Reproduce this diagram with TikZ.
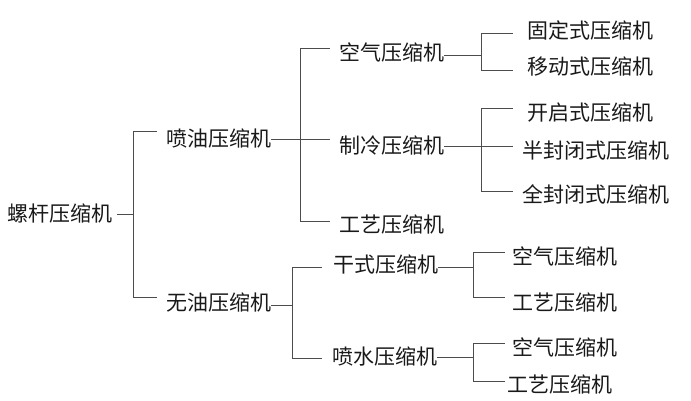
\documentclass[tikz,border=0pt]{standalone}
\usepackage{fontspec}
\setmainfont{Noto Sans CJK SC}
\begin{document}
\begin{tikzpicture}[x=1pt, y=-1pt,
    lbl/.style={anchor=west, inner sep=0pt, font=\fontsize{21}{25}\selectfont, text=black!90},
    link/.style={draw=black!70, line width=0.8pt}]
      \useasboundingbox (0,0) rectangle (691,400);
      %
      \node[lbl] (root) at (7,213) {螺杆压缩机};      % root
      %
      \node[lbl] (pen) at (166,138) {喷油压缩机};     % second level
      \node[lbl] (wu)  at (166,302) {无油压缩机};
      %
      \node[lbl] (kq1) at (339,52)  {空气压缩机};     % under pen
      \node[lbl] (zl)  at (339,145) {制冷压缩机};
      \node[lbl] (gy1) at (339,224) {工艺压缩机};
      %
      \node[lbl] (gs)  at (333,265) {干式压缩机};     % under wu
      \node[lbl] (ps)  at (332,356) {喷水压缩机};
      %
      \node[lbl] (gd)  at (527,30)  {固定式压缩机};   % leaves
      \node[lbl] (yd)  at (527,67)  {移动式压缩机};
      \node[lbl] (kq)  at (527,113) {开启式压缩机};
      \node[lbl] (bf)  at (522,151) {半封闭式压缩机};
      \node[lbl] (qf)  at (522,194) {全封闭式压缩机};
      \node[lbl] (kq2) at (512,256) {空气压缩机};
      \node[lbl] (gy2) at (512,302) {工艺压缩机};
      \node[lbl] (kq3) at (512,347) {空气压缩机};
      \node[lbl] (gy3) at (507,384) {工艺压缩机};
      %
      \coordinate (j0) at (133,214);                 % junctions
      \coordinate (j1) at (300,139);
      \coordinate (j2) at (292,305);
      \coordinate (j3) at (481,55);
      \coordinate (j4) at (481,146);
      \coordinate (j5) at (473,267);
      \coordinate (j6) at (473,357);
      %
      \draw[link] ([xshift=5pt]root.east |- j0) -- (j0);  % root bracket
      \draw[link] (j0) |- ([xshift=-9pt,yshift=7pt]pen.west);
      \draw[link] (j0) |- ([xshift=-9pt,yshift=5pt]wu.west);
      %
      \draw[link] (pen.east |- j1) -- (j1);         % pen bracket
      \draw[link] (j1) |- ([xshift=-9pt,yshift=4pt]kq1.west);
      \draw[link] (j1) -- ([xshift=-9pt]j1 -| kq1.west);
      \draw[link] (j1) |- ([xshift=-9pt,yshift=3pt]gy1.west);
      %
      \draw[link] (wu.east |- j2) -- (j2);          % wu bracket
      \draw[link] (j2) |- ([xshift=-11pt,yshift=-2pt]gs.west);
      \draw[link] (j2) |- ([xshift=-10pt,yshift=-2pt]ps.west);
      %
      \draw[link] (kq1.east |- j3) -- (j3);         % kq1 bracket
      \draw[link] (j3) |- ([xshift=-14pt,yshift=-3pt]gd.west);
      \draw[link] (j3) |- ([xshift=-14pt,yshift=-3pt]yd.west);
      %
      \draw[link] (zl.east |- j4) -- ([xshift=-9pt]j4 -| bf.west); % zl bracket
      \draw[link] (j4) |- ([xshift=-14pt,yshift=5pt]kq.west);
      \draw[link] (j4) |- ([xshift=-9pt,yshift=3pt]qf.west);
      %
      \draw[link] (gs.east |- j5) -- (j5);          % gs bracket
      \draw[link] (j5) |- ([xshift=-7pt,yshift=4pt]kq2.west);
      \draw[link] (j5) |- ([xshift=-7pt,yshift=5pt]gy2.west);
      %
      \draw[link] (ps.east |- j6) -- (j6);          % ps bracket
      \draw[link] (j6) |- ([xshift=-7pt,yshift=4pt]kq3.west);
      \draw[link] (j6) |- ([xshift=-2pt,yshift=3pt]gy3.west);
      %
\end{tikzpicture}
\end{document}
